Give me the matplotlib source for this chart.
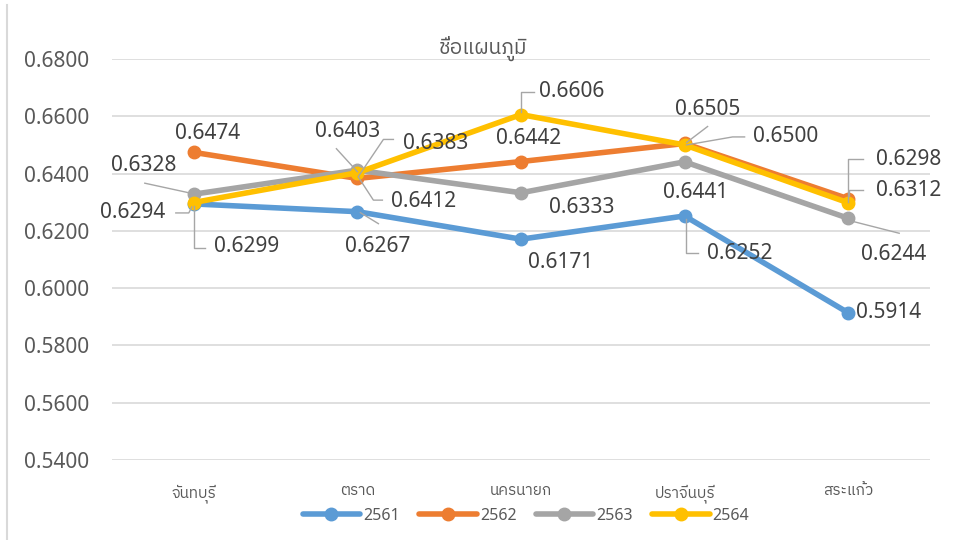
import matplotlib
matplotlib.use('Agg')
import matplotlib.pyplot as plt
from matplotlib import font_manager
from matplotlib.ft2font import FT2Font
from matplotlib.lines import Line2D
from matplotlib.transforms import IdentityTransform

provinces = ['จันทบุรี', 'ตราด', 'นครนายก', 'ปราจีนบุรี', 'สระแก้ว']
years = ['2561', '2562', '2563', '2564']
v2561 = [0.6294, 0.6267, 0.6171, 0.6252, 0.5914]
v2562 = [0.6474, 0.6383, 0.6442, 0.6505, 0.6312]
v2563 = [0.6328, 0.6412, 0.6333, 0.6441, 0.6244]
v2564 = [0.6299, 0.6403, 0.6606, 0.6500, 0.6298]
series = [v2561, v2562, v2563, v2564]
colors = ['#5B9BD5', '#ED7D31', '#A5A5A5', '#FFC000']
title = 'ชื่อแผนภูมิ'

# label offsets in pixels (dx, dy with y down) and leader polylines, per series / category
label_pos = [
    [(-61, 9), (20, 35), (40, 23), (55, 38), (40, 0)],
    [(14, -19), (78, -35), (8, -23), (23, -34), (60, -8)],
    [(-50, -29), (66, 31), (61, 15), (11, 31), (45, 36)],
    [(53, 44), (-10, -41), (51, -23), (101, -8), (60, -43)],
]
leaders = [
    [[(-18, 9), (-5, 9), (-2, 3)], [(3, 1), (21, 12)], None, [(1, 3), (1, 37), (13, 37)], None],
    [None, [(36, -39), (26, -39), (1, -2)], None, [(23, -17), (2, -1)], [(15, -9), (1, -9), (1, -3)]],
    [[(-49, -11), (-3, -1)], [(1, 7), (16, 30), (25, 30)], None, None, [(4, 3), (51, 15)]],
    [[(0, 3), (0, 45), (11, 45)], [(-21, -24), (0, -1)], [(0, -3), (0, -23), (13, -23)],
     [(60, -8), (48, -8), (2, 0)], [(0, -1), (0, -44), (15, -44)]],
]


def find_thai_font():
    names = []
    for f in font_manager.fontManager.ttflist:
        try:
            if 0x0E0A in FT2Font(f.fname).get_charmap():
                names.append(f.name)
        except Exception:
            pass
    for n in names:
        if 'Sans' in n:
            return n
    return names[0] if names else 'DejaVu Sans'


thai = find_thai_font()
plt.rcParams['font.family'] = ['Noto Sans', thai, 'DejaVu Sans']

W, H = 966, 540
fig = plt.figure(figsize=(W / 100, H / 100), dpi=100)
ax = fig.add_axes([112 / W, 1 - 460 / H, 818 / W, 401 / H])

x = range(len(provinces))
for vals, c, yr in zip(series, colors, years):
    ax.plot(x, vals, color=c, lw=4, marker='o', ms=9, label=yr, solid_capstyle='round')

ax.set_xlim(-0.5, 4.5)
ax.set_ylim(0.54, 0.68)
ax.set_yticks([0.54, 0.56, 0.58, 0.60, 0.62, 0.64, 0.66, 0.68])
ax.set_yticklabels(['%.4f' % t for t in ax.get_yticks()])
ax.set_xticks(list(x))
ax.set_xticklabels(provinces, fontsize=11, color='#595959')
ax.tick_params(axis='y', length=0, pad=16.5, labelsize=15, labelcolor='#595959')
ax.tick_params(axis='x', length=0, pad=17.5)
ax.grid(axis='y', color='#D9D9D9', lw=1.2)
ax.set_axisbelow(True)
for s in ax.spines.values():
    s.set_visible(False)

fig.text(483 / W, 1 - 48 / H, title, ha='center', va='center', fontsize=15, color='#595959')

for si, vals in enumerate(series):
    for ci, v in enumerate(vals):
        dx, dy = label_pos[si][ci]
        ax.annotate('%.4f' % v, (ci, v), xytext=(dx, -dy), textcoords='offset pixels',
                    ha='center', va='center', fontsize=15, color='#404040', zorder=5)
        ld = leaders[si][ci]
        if ld:
            px, py = ax.transData.transform((ci, v))
            fig.add_artist(Line2D([px + a for a, b in ld], [py - b for a, b in ld],
                                  transform=IdentityTransform(), color='#A6A6A6', lw=1, zorder=4))

fig.add_artist(Line2D([7, 7], [0, H - 5], transform=IdentityTransform(), color='#D9D9D9', lw=1.5))

fig.legend(loc='center', bbox_to_anchor=(526 / W, 1 - 516 / H), ncol=4, frameon=False,
           fontsize=11.5, labelcolor='#595959', handlelength=3.6, handletextpad=0.2,
           columnspacing=1.2)

fig.savefig('out.png', dpi=100)
